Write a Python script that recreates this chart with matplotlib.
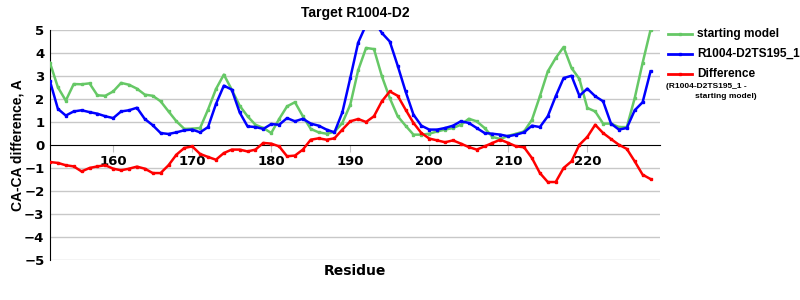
import matplotlib
matplotlib.use("Agg")
import matplotlib.pyplot as plt
from matplotlib.lines import Line2D

residues = list(range(152, 229))

starting_model = [3.57, 2.51, 1.93, 2.65, 2.64, 2.68, 2.16, 2.14, 2.33, 2.70,
                  2.62, 2.45, 2.19, 2.14, 1.90, 1.46, 1.03, 0.70, 0.71, 0.74,
                  1.54, 2.43, 3.06, 2.41, 1.71, 1.25, 0.88, 0.74, 0.52, 1.13,
                  1.68, 1.86, 1.25, 0.70, 0.55, 0.49, 0.57, 0.96, 1.75, 3.25,
                  4.22, 4.17, 2.99, 2.04, 1.25, 0.84, 0.45, 0.45, 0.49, 0.59,
                  0.67, 0.74, 0.88, 1.14, 1.03, 0.74, 0.35, 0.26, 0.40, 0.49,
                  0.59, 1.10, 2.12, 3.20, 3.78, 4.26, 3.35, 2.87, 1.61, 1.46,
                  0.93, 0.93, 0.78, 0.78, 2.04, 3.57, 5.00]

model_ts195 = [2.77, 1.57, 1.28, 1.46, 1.51, 1.43, 1.36, 1.25, 1.17, 1.46,
               1.51, 1.62, 1.13, 0.86, 0.52, 0.48, 0.55, 0.64, 0.67, 0.55,
               0.78, 1.78, 2.58, 2.41, 1.42, 0.81, 0.78, 0.70, 0.91, 0.88,
               1.17, 1.03, 1.14, 0.93, 0.84, 0.67, 0.55, 1.42, 2.91, 4.45,
               5.22, 5.42, 4.87, 4.50, 3.45, 2.33, 1.32, 0.84, 0.67, 0.67,
               0.74, 0.84, 1.03, 0.96, 0.74, 0.52, 0.49, 0.45, 0.38, 0.45,
               0.55, 0.84, 0.78, 1.25, 2.12, 2.91, 3.01, 2.14, 2.45, 2.12,
               1.90, 0.93, 0.67, 0.74, 1.51, 1.86, 3.20]

difference = [-0.74, -0.78, -0.88, -0.93, -1.15, -1.00, -0.93, -0.88, -1.03, -1.10,
              -1.03, -0.94, -1.03, -1.22, -1.22, -0.88, -0.42, -0.13, -0.06, -0.39,
              -0.52, -0.64, -0.35, -0.20, -0.20, -0.28, -0.20, 0.09, 0.06, -0.06,
              -0.49, -0.46, -0.20, 0.23, 0.29, 0.23, 0.29, 0.67, 1.03, 1.13,
              1.00, 1.25, 1.90, 2.33, 2.14, 1.54, 0.96, 0.52, 0.28, 0.20,
              0.12, 0.20, 0.06, -0.09, -0.20, -0.06, 0.09, 0.23, 0.09, -0.06,
              -0.10, -0.57, -1.22, -1.61, -1.61, -1.00, -0.71, 0.01, 0.35, 0.88,
              0.52, 0.26, 0.01, -0.17, -0.71, -1.29, -1.48]

x_ticks = [160, 170, 180, 190, 200, 210, 220]
y_ticks = [-5, -4, -3, -2, -1, 0, 1, 2, 3, 4, 5]

c_green = "#66c866"
c_blue = "#0000ff"
c_red = "#ff0000"

fig = plt.figure(figsize=(8, 3), dpi=100)
ax = fig.add_axes([50/800, 1-260/300, 610/800, 230/300])

for yv in y_ticks:
    if yv != 0:
        ax.axhline(yv, color="#c8c8c8", lw=1, zorder=0)

kw = dict(lw=1.8, marker="s", markersize=2)
ax.plot(residues, starting_model, color=c_green, zorder=3, **kw)
ax.plot(residues, model_ts195, color=c_blue, zorder=4, **kw)
ax.plot(residues, difference, color=c_red, zorder=5, **kw)

ax.set_xlim(152, 229.2)
ax.set_ylim(-5, 5)
ax.spines["top"].set_visible(False)
ax.spines["right"].set_visible(False)
ax.spines["bottom"].set_position(("data", 0))
ax.spines["bottom"].set_color("black")
ax.spines["left"].set_color("black")
ax.set_xticks(x_ticks)
ax.set_yticks(y_ticks)
ax.tick_params(axis="x", length=5, color="#c0c0c0", pad=2)
ax.tick_params(axis="y", length=0, pad=4)
for lab in ax.get_xticklabels() + ax.get_yticklabels():
    lab.set_fontweight("bold")
    lab.set_fontsize(9.5)
    lab.set_family("DejaVu Sans")

fig.text(355/800, 1-13/300, "Target R1004-D2", ha="center", va="center",
         fontsize=10, fontweight="bold", family="Liberation Sans")
fig.text(355/800, 1-271/300, "Residue", ha="center", va="center",
         fontsize=10, fontweight="bold", family="DejaVu Sans")
fig.text(18/800, 1-145/300, "CA-CA difference, A", ha="center", va="center",
         rotation=90, fontsize=10, fontweight="bold", family="Liberation Sans")

entries = [("starting model", c_green, 34), ("R1004-D2TS195_1", c_blue, 54),
           ("Difference", c_red, 74)]
for label, col, ypx in entries:
    yf = 1 - ypx/300
    fig.add_artist(Line2D([668/800, 692/800], [yf, yf], color=col, lw=2,
                          transform=fig.transFigure))
    fig.add_artist(Line2D([680/800], [yf], color=col, marker="s", markersize=2,
                          transform=fig.transFigure))
    fig.text(697/800, yf, label, ha="left", va="center", fontsize=8.6,
             fontweight="bold", family="Liberation Sans")
fig.text(666/800, 1-87/300, "(R1004-D2TS195_1 -", ha="left", va="center",
         fontsize=6, fontweight="bold", family="Liberation Sans")
fig.text(695/800, 1-97/300, "starting model)", ha="left", va="center",
         fontsize=6, fontweight="bold", family="Liberation Sans")

fig.savefig("out.png", dpi=100)
